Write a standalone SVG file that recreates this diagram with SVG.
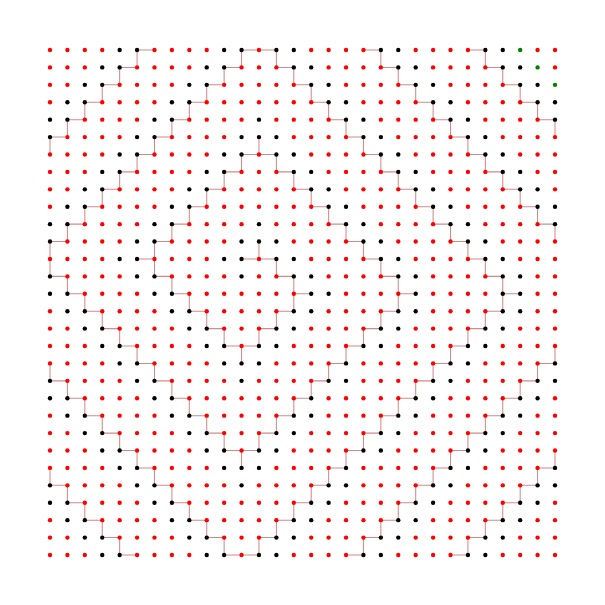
<svg xmlns="http://www.w3.org/2000/svg" xmlns:xlink="http://www.w3.org/1999/xlink" width="605" height="605" viewBox="0 0 605 605">
<style>
#links path{fill:none;stroke:#d48a8a;stroke-width:.06}
</style>
<defs>
<circle id="R" r=".125" fill="#ff0000"/>
<circle id="B" r=".125" fill="#000000"/>
<circle id="G" r=".125" fill="#008000"/>
</defs>
<rect width="605" height="605" fill="#ffffff"/>
<g transform="translate(50,50) scale(17.41379)">
<g id="links"><path d="M5 0h1M11 0h2M18 0h1M24 0h1M4 1h1M10 1h1M13 1h1M19 1h1M25 1h1M3 2h1M9 2h1M14 2h1M20 2h1M26 2h1M2 3h1M8 3h1M15 3h1M21 3h1M27 3h1M1 4h1M7 4h1M16 4h1M22 4h1M28 4h1M0 5h1M6 5h1M17 5h1M23 5h1M5 6h1M11 6h2M18 6h1M24 6h1M4 7h1M10 7h1M13 7h1M19 7h1M25 7h1M3 8h1M9 8h1M14 8h1M20 8h1M26 8h1M2 9h1M8 9h1M15 9h1M21 9h1M27 9h1M1 10h1M7 10h1M16 10h1M22 10h1M28 10h1M0 11h1M6 11h1M17 11h1M23 11h1M5 12h1M11 12h2M18 12h1M24 12h1M0 13h1M6 13h1M13 13h1M19 13h1M25 13h1M1 14h1M7 14h1M14 14h1M20 14h1M26 14h1M2 15h1M8 15h1M13 15h1M19 15h1M25 15h1M3 16h1M9 16h1M12 16h1M18 16h1M24 16h1M4 17h1M10 17h2M17 17h1M23 17h1M5 18h1M16 18h1M22 18h1M28 18h1M0 19h1M6 19h1M15 19h1M21 19h1M27 19h1M1 20h1M7 20h1M14 20h1M20 20h1M26 20h1M2 21h1M8 21h1M13 21h1M19 21h1M25 21h1M3 22h1M9 22h1M12 22h1M18 22h1M24 22h1M4 23h1M10 23h2M17 23h1M23 23h1M5 24h1M16 24h1M22 24h1M28 24h1M0 25h1M6 25h1M15 25h1M21 25h1M27 25h1M1 26h1M7 26h1M14 26h1M20 26h1M26 26h1M2 27h1M8 27h1M13 27h1M19 27h1M25 27h1M3 28h1M9 28h1M12 28h1M18 28h1M24 28h1M4 29h1M10 29h2M17 29h1M23 29h1"/>
<path d="M5 0v1M4 1v1M3 2v1M2 3v1M1 4v1M0 5v1M9 2v1M8 3v1M7 4v1M6 5v1M5 6v1M4 7v1M3 8v1M2 9v1M9 8v1M8 9v1M11 0v1M13 0v1M19 0v1M10 1v1M14 1v1M15 2v1M16 3v1M17 4v1M12 5v1M18 5v1M11 6v1M13 6v1M19 6v1M10 7v1M14 7v1M15 8v1M16 9v1M25 0v1M20 1v1M26 1v1M21 2v1M27 2v1M22 3v1M28 3v1M23 4v1M29 4v1M24 5v1M25 6v1M20 7v1M26 7v1M21 8v1M27 8v1M22 9v1M28 9v1M1 10v1M7 10v1M0 11v1M6 11v1M0 12v1M6 12v1M1 13v1M7 13v1M2 14v1M8 14v1M3 15v1M9 15v1M4 16v1M5 17v1M0 18v1M6 18v1M7 19v1M1 19v1M17 10v1M12 11v1M18 11v1M13 12v1M19 12v1M14 13v1M14 14v1M13 15v1M19 15v1M12 16v1M10 16v1M18 16v1M11 17v1M17 17v1M16 18v1M15 19v1M23 10v1M29 10v1M24 11v1M25 12v1M20 13v1M26 13v1M20 14v1M26 14v1M25 15v1M24 16v1M23 17v1M29 17v1M22 18v1M28 18v1M21 19v1M27 19v1M2 20v1M8 20v1M3 21v1M9 21v1M4 22v1M5 23v1M0 24v1M6 24v1M1 25v1M7 25v1M2 26v1M8 26v1M3 27v1M9 27v1M4 28v1M14 20v1M13 21v1M19 21v1M10 22v1M12 22v1M18 22v1M11 23v1M17 23v1M16 24v1M15 25v1M14 26v1M13 27v1M19 27v1M10 28v1M12 28v1M18 28v1M20 20v1M26 20v1M25 21v1M24 22v1M29 23v1M23 23v1M22 24v1M28 24v1M21 25v1M27 25v1M20 26v1M26 26v1M25 27v1M24 28v1"/></g>
<g id="row0"><g id="n0-0"><use href="#R" x="0" y="0"/></g><g id="n0-1"><use href="#R" x="1" y="0"/></g><g id="n0-2"><use href="#R" x="2" y="0"/></g><g id="n0-3"><use href="#R" x="3" y="0"/></g><g id="n0-4"><use href="#B" x="4" y="0"/></g><g id="n0-5"><use href="#B" x="5" y="0"/></g><g id="n0-6"><use href="#R" x="6" y="0"/></g><g id="n0-7"><use href="#R" x="7" y="0"/></g><g id="n0-8"><use href="#R" x="8" y="0"/></g><g id="n0-9"><use href="#R" x="9" y="0"/></g><g id="n0-10"><use href="#B" x="10" y="0"/></g><g id="n0-11"><use href="#B" x="11" y="0"/></g><g id="n0-12"><use href="#R" x="12" y="0"/></g><g id="n0-13"><use href="#B" x="13" y="0"/></g><g id="n0-14"><use href="#B" x="14" y="0"/></g><g id="n0-15"><use href="#R" x="15" y="0"/></g><g id="n0-16"><use href="#R" x="16" y="0"/></g><g id="n0-17"><use href="#R" x="17" y="0"/></g><g id="n0-18"><use href="#R" x="18" y="0"/></g><g id="n0-19"><use href="#B" x="19" y="0"/></g><g id="n0-20"><use href="#B" x="20" y="0"/></g><g id="n0-21"><use href="#R" x="21" y="0"/></g><g id="n0-22"><use href="#R" x="22" y="0"/></g><g id="n0-23"><use href="#R" x="23" y="0"/></g><g id="n0-24"><use href="#R" x="24" y="0"/></g><g id="n0-25"><use href="#B" x="25" y="0"/></g><g id="n0-26"><use href="#B" x="26" y="0"/></g><g id="n0-27"><use href="#G" x="27" y="0"/></g><g id="n0-28"><use href="#R" x="28" y="0"/></g><g id="n0-29"><use href="#R" x="29" y="0"/></g></g>
<g id="row1"><g id="n1-0"><use href="#R" x="0" y="1"/></g><g id="n1-1"><use href="#R" x="1" y="1"/></g><g id="n1-2"><use href="#R" x="2" y="1"/></g><g id="n1-3"><use href="#B" x="3" y="1"/></g><g id="n1-4"><use href="#B" x="4" y="1"/></g><g id="n1-5"><use href="#R" x="5" y="1"/></g><g id="n1-6"><use href="#R" x="6" y="1"/></g><g id="n1-7"><use href="#R" x="7" y="1"/></g><g id="n1-8"><use href="#R" x="8" y="1"/></g><g id="n1-9"><use href="#B" x="9" y="1"/></g><g id="n1-10"><use href="#B" x="10" y="1"/></g><g id="n1-11"><use href="#R" x="11" y="1"/></g><g id="n1-12"><use href="#R" x="12" y="1"/></g><g id="n1-13"><use href="#R" x="13" y="1"/></g><g id="n1-14"><use href="#B" x="14" y="1"/></g><g id="n1-15"><use href="#B" x="15" y="1"/></g><g id="n1-16"><use href="#R" x="16" y="1"/></g><g id="n1-17"><use href="#R" x="17" y="1"/></g><g id="n1-18"><use href="#R" x="18" y="1"/></g><g id="n1-19"><use href="#R" x="19" y="1"/></g><g id="n1-20"><use href="#B" x="20" y="1"/></g><g id="n1-21"><use href="#B" x="21" y="1"/></g><g id="n1-22"><use href="#R" x="22" y="1"/></g><g id="n1-23"><use href="#R" x="23" y="1"/></g><g id="n1-24"><use href="#R" x="24" y="1"/></g><g id="n1-25"><use href="#R" x="25" y="1"/></g><g id="n1-26"><use href="#B" x="26" y="1"/></g><g id="n1-27"><use href="#B" x="27" y="1"/></g><g id="n1-28"><use href="#G" x="28" y="1"/></g><g id="n1-29"><use href="#R" x="29" y="1"/></g></g>
<g id="row2"><g id="n2-0"><use href="#R" x="0" y="2"/></g><g id="n2-1"><use href="#R" x="1" y="2"/></g><g id="n2-2"><use href="#B" x="2" y="2"/></g><g id="n2-3"><use href="#B" x="3" y="2"/></g><g id="n2-4"><use href="#R" x="4" y="2"/></g><g id="n2-5"><use href="#R" x="5" y="2"/></g><g id="n2-6"><use href="#R" x="6" y="2"/></g><g id="n2-7"><use href="#R" x="7" y="2"/></g><g id="n2-8"><use href="#B" x="8" y="2"/></g><g id="n2-9"><use href="#B" x="9" y="2"/></g><g id="n2-10"><use href="#R" x="10" y="2"/></g><g id="n2-11"><use href="#R" x="11" y="2"/></g><g id="n2-12"><use href="#R" x="12" y="2"/></g><g id="n2-13"><use href="#R" x="13" y="2"/></g><g id="n2-14"><use href="#R" x="14" y="2"/></g><g id="n2-15"><use href="#B" x="15" y="2"/></g><g id="n2-16"><use href="#B" x="16" y="2"/></g><g id="n2-17"><use href="#R" x="17" y="2"/></g><g id="n2-18"><use href="#R" x="18" y="2"/></g><g id="n2-19"><use href="#R" x="19" y="2"/></g><g id="n2-20"><use href="#R" x="20" y="2"/></g><g id="n2-21"><use href="#B" x="21" y="2"/></g><g id="n2-22"><use href="#B" x="22" y="2"/></g><g id="n2-23"><use href="#R" x="23" y="2"/></g><g id="n2-24"><use href="#R" x="24" y="2"/></g><g id="n2-25"><use href="#R" x="25" y="2"/></g><g id="n2-26"><use href="#R" x="26" y="2"/></g><g id="n2-27"><use href="#B" x="27" y="2"/></g><g id="n2-28"><use href="#B" x="28" y="2"/></g><g id="n2-29"><use href="#G" x="29" y="2"/></g></g>
<g id="row3"><g id="n3-0"><use href="#R" x="0" y="3"/></g><g id="n3-1"><use href="#B" x="1" y="3"/></g><g id="n3-2"><use href="#B" x="2" y="3"/></g><g id="n3-3"><use href="#R" x="3" y="3"/></g><g id="n3-4"><use href="#R" x="4" y="3"/></g><g id="n3-5"><use href="#R" x="5" y="3"/></g><g id="n3-6"><use href="#R" x="6" y="3"/></g><g id="n3-7"><use href="#B" x="7" y="3"/></g><g id="n3-8"><use href="#B" x="8" y="3"/></g><g id="n3-9"><use href="#R" x="9" y="3"/></g><g id="n3-10"><use href="#R" x="10" y="3"/></g><g id="n3-11"><use href="#R" x="11" y="3"/></g><g id="n3-12"><use href="#R" x="12" y="3"/></g><g id="n3-13"><use href="#R" x="13" y="3"/></g><g id="n3-14"><use href="#R" x="14" y="3"/></g><g id="n3-15"><use href="#R" x="15" y="3"/></g><g id="n3-16"><use href="#B" x="16" y="3"/></g><g id="n3-17"><use href="#B" x="17" y="3"/></g><g id="n3-18"><use href="#R" x="18" y="3"/></g><g id="n3-19"><use href="#R" x="19" y="3"/></g><g id="n3-20"><use href="#R" x="20" y="3"/></g><g id="n3-21"><use href="#R" x="21" y="3"/></g><g id="n3-22"><use href="#B" x="22" y="3"/></g><g id="n3-23"><use href="#B" x="23" y="3"/></g><g id="n3-24"><use href="#R" x="24" y="3"/></g><g id="n3-25"><use href="#R" x="25" y="3"/></g><g id="n3-26"><use href="#R" x="26" y="3"/></g><g id="n3-27"><use href="#R" x="27" y="3"/></g><g id="n3-28"><use href="#B" x="28" y="3"/></g><g id="n3-29"><use href="#B" x="29" y="3"/></g></g>
<g id="row4"><g id="n4-0"><use href="#B" x="0" y="4"/></g><g id="n4-1"><use href="#B" x="1" y="4"/></g><g id="n4-2"><use href="#R" x="2" y="4"/></g><g id="n4-3"><use href="#R" x="3" y="4"/></g><g id="n4-4"><use href="#R" x="4" y="4"/></g><g id="n4-5"><use href="#R" x="5" y="4"/></g><g id="n4-6"><use href="#B" x="6" y="4"/></g><g id="n4-7"><use href="#B" x="7" y="4"/></g><g id="n4-8"><use href="#R" x="8" y="4"/></g><g id="n4-9"><use href="#R" x="9" y="4"/></g><g id="n4-10"><use href="#R" x="10" y="4"/></g><g id="n4-11"><use href="#R" x="11" y="4"/></g><g id="n4-12"><use href="#B" x="12" y="4"/></g><g id="n4-13"><use href="#R" x="13" y="4"/></g><g id="n4-14"><use href="#R" x="14" y="4"/></g><g id="n4-15"><use href="#R" x="15" y="4"/></g><g id="n4-16"><use href="#R" x="16" y="4"/></g><g id="n4-17"><use href="#B" x="17" y="4"/></g><g id="n4-18"><use href="#B" x="18" y="4"/></g><g id="n4-19"><use href="#R" x="19" y="4"/></g><g id="n4-20"><use href="#R" x="20" y="4"/></g><g id="n4-21"><use href="#R" x="21" y="4"/></g><g id="n4-22"><use href="#R" x="22" y="4"/></g><g id="n4-23"><use href="#B" x="23" y="4"/></g><g id="n4-24"><use href="#B" x="24" y="4"/></g><g id="n4-25"><use href="#R" x="25" y="4"/></g><g id="n4-26"><use href="#R" x="26" y="4"/></g><g id="n4-27"><use href="#R" x="27" y="4"/></g><g id="n4-28"><use href="#R" x="28" y="4"/></g><g id="n4-29"><use href="#B" x="29" y="4"/></g></g>
<g id="row5"><g id="n5-0"><use href="#B" x="0" y="5"/></g><g id="n5-1"><use href="#R" x="1" y="5"/></g><g id="n5-2"><use href="#R" x="2" y="5"/></g><g id="n5-3"><use href="#R" x="3" y="5"/></g><g id="n5-4"><use href="#R" x="4" y="5"/></g><g id="n5-5"><use href="#B" x="5" y="5"/></g><g id="n5-6"><use href="#B" x="6" y="5"/></g><g id="n5-7"><use href="#R" x="7" y="5"/></g><g id="n5-8"><use href="#R" x="8" y="5"/></g><g id="n5-9"><use href="#R" x="9" y="5"/></g><g id="n5-10"><use href="#R" x="10" y="5"/></g><g id="n5-11"><use href="#B" x="11" y="5"/></g><g id="n5-12"><use href="#B" x="12" y="5"/></g><g id="n5-13"><use href="#B" x="13" y="5"/></g><g id="n5-14"><use href="#R" x="14" y="5"/></g><g id="n5-15"><use href="#R" x="15" y="5"/></g><g id="n5-16"><use href="#R" x="16" y="5"/></g><g id="n5-17"><use href="#R" x="17" y="5"/></g><g id="n5-18"><use href="#B" x="18" y="5"/></g><g id="n5-19"><use href="#B" x="19" y="5"/></g><g id="n5-20"><use href="#R" x="20" y="5"/></g><g id="n5-21"><use href="#R" x="21" y="5"/></g><g id="n5-22"><use href="#R" x="22" y="5"/></g><g id="n5-23"><use href="#R" x="23" y="5"/></g><g id="n5-24"><use href="#B" x="24" y="5"/></g><g id="n5-25"><use href="#B" x="25" y="5"/></g><g id="n5-26"><use href="#R" x="26" y="5"/></g><g id="n5-27"><use href="#R" x="27" y="5"/></g><g id="n5-28"><use href="#R" x="28" y="5"/></g><g id="n5-29"><use href="#R" x="29" y="5"/></g></g>
<g id="row6"><g id="n6-0"><use href="#R" x="0" y="6"/></g><g id="n6-1"><use href="#R" x="1" y="6"/></g><g id="n6-2"><use href="#R" x="2" y="6"/></g><g id="n6-3"><use href="#R" x="3" y="6"/></g><g id="n6-4"><use href="#B" x="4" y="6"/></g><g id="n6-5"><use href="#B" x="5" y="6"/></g><g id="n6-6"><use href="#R" x="6" y="6"/></g><g id="n6-7"><use href="#R" x="7" y="6"/></g><g id="n6-8"><use href="#R" x="8" y="6"/></g><g id="n6-9"><use href="#R" x="9" y="6"/></g><g id="n6-10"><use href="#B" x="10" y="6"/></g><g id="n6-11"><use href="#B" x="11" y="6"/></g><g id="n6-12"><use href="#R" x="12" y="6"/></g><g id="n6-13"><use href="#B" x="13" y="6"/></g><g id="n6-14"><use href="#B" x="14" y="6"/></g><g id="n6-15"><use href="#R" x="15" y="6"/></g><g id="n6-16"><use href="#R" x="16" y="6"/></g><g id="n6-17"><use href="#R" x="17" y="6"/></g><g id="n6-18"><use href="#R" x="18" y="6"/></g><g id="n6-19"><use href="#B" x="19" y="6"/></g><g id="n6-20"><use href="#B" x="20" y="6"/></g><g id="n6-21"><use href="#R" x="21" y="6"/></g><g id="n6-22"><use href="#R" x="22" y="6"/></g><g id="n6-23"><use href="#R" x="23" y="6"/></g><g id="n6-24"><use href="#R" x="24" y="6"/></g><g id="n6-25"><use href="#B" x="25" y="6"/></g><g id="n6-26"><use href="#B" x="26" y="6"/></g><g id="n6-27"><use href="#R" x="27" y="6"/></g><g id="n6-28"><use href="#R" x="28" y="6"/></g><g id="n6-29"><use href="#R" x="29" y="6"/></g></g>
<g id="row7"><g id="n7-0"><use href="#R" x="0" y="7"/></g><g id="n7-1"><use href="#R" x="1" y="7"/></g><g id="n7-2"><use href="#R" x="2" y="7"/></g><g id="n7-3"><use href="#B" x="3" y="7"/></g><g id="n7-4"><use href="#B" x="4" y="7"/></g><g id="n7-5"><use href="#R" x="5" y="7"/></g><g id="n7-6"><use href="#R" x="6" y="7"/></g><g id="n7-7"><use href="#R" x="7" y="7"/></g><g id="n7-8"><use href="#R" x="8" y="7"/></g><g id="n7-9"><use href="#B" x="9" y="7"/></g><g id="n7-10"><use href="#B" x="10" y="7"/></g><g id="n7-11"><use href="#R" x="11" y="7"/></g><g id="n7-12"><use href="#R" x="12" y="7"/></g><g id="n7-13"><use href="#R" x="13" y="7"/></g><g id="n7-14"><use href="#B" x="14" y="7"/></g><g id="n7-15"><use href="#B" x="15" y="7"/></g><g id="n7-16"><use href="#R" x="16" y="7"/></g><g id="n7-17"><use href="#R" x="17" y="7"/></g><g id="n7-18"><use href="#R" x="18" y="7"/></g><g id="n7-19"><use href="#R" x="19" y="7"/></g><g id="n7-20"><use href="#B" x="20" y="7"/></g><g id="n7-21"><use href="#B" x="21" y="7"/></g><g id="n7-22"><use href="#R" x="22" y="7"/></g><g id="n7-23"><use href="#R" x="23" y="7"/></g><g id="n7-24"><use href="#R" x="24" y="7"/></g><g id="n7-25"><use href="#R" x="25" y="7"/></g><g id="n7-26"><use href="#B" x="26" y="7"/></g><g id="n7-27"><use href="#B" x="27" y="7"/></g><g id="n7-28"><use href="#R" x="28" y="7"/></g><g id="n7-29"><use href="#R" x="29" y="7"/></g></g>
<g id="row8"><g id="n8-0"><use href="#R" x="0" y="8"/></g><g id="n8-1"><use href="#R" x="1" y="8"/></g><g id="n8-2"><use href="#B" x="2" y="8"/></g><g id="n8-3"><use href="#B" x="3" y="8"/></g><g id="n8-4"><use href="#R" x="4" y="8"/></g><g id="n8-5"><use href="#R" x="5" y="8"/></g><g id="n8-6"><use href="#R" x="6" y="8"/></g><g id="n8-7"><use href="#R" x="7" y="8"/></g><g id="n8-8"><use href="#B" x="8" y="8"/></g><g id="n8-9"><use href="#B" x="9" y="8"/></g><g id="n8-10"><use href="#R" x="10" y="8"/></g><g id="n8-11"><use href="#R" x="11" y="8"/></g><g id="n8-12"><use href="#R" x="12" y="8"/></g><g id="n8-13"><use href="#R" x="13" y="8"/></g><g id="n8-14"><use href="#R" x="14" y="8"/></g><g id="n8-15"><use href="#B" x="15" y="8"/></g><g id="n8-16"><use href="#B" x="16" y="8"/></g><g id="n8-17"><use href="#R" x="17" y="8"/></g><g id="n8-18"><use href="#R" x="18" y="8"/></g><g id="n8-19"><use href="#R" x="19" y="8"/></g><g id="n8-20"><use href="#R" x="20" y="8"/></g><g id="n8-21"><use href="#B" x="21" y="8"/></g><g id="n8-22"><use href="#B" x="22" y="8"/></g><g id="n8-23"><use href="#R" x="23" y="8"/></g><g id="n8-24"><use href="#R" x="24" y="8"/></g><g id="n8-25"><use href="#R" x="25" y="8"/></g><g id="n8-26"><use href="#R" x="26" y="8"/></g><g id="n8-27"><use href="#B" x="27" y="8"/></g><g id="n8-28"><use href="#B" x="28" y="8"/></g><g id="n8-29"><use href="#R" x="29" y="8"/></g></g>
<g id="row9"><g id="n9-0"><use href="#R" x="0" y="9"/></g><g id="n9-1"><use href="#B" x="1" y="9"/></g><g id="n9-2"><use href="#B" x="2" y="9"/></g><g id="n9-3"><use href="#R" x="3" y="9"/></g><g id="n9-4"><use href="#R" x="4" y="9"/></g><g id="n9-5"><use href="#R" x="5" y="9"/></g><g id="n9-6"><use href="#R" x="6" y="9"/></g><g id="n9-7"><use href="#B" x="7" y="9"/></g><g id="n9-8"><use href="#B" x="8" y="9"/></g><g id="n9-9"><use href="#R" x="9" y="9"/></g><g id="n9-10"><use href="#R" x="10" y="9"/></g><g id="n9-11"><use href="#R" x="11" y="9"/></g><g id="n9-12"><use href="#R" x="12" y="9"/></g><g id="n9-13"><use href="#R" x="13" y="9"/></g><g id="n9-14"><use href="#R" x="14" y="9"/></g><g id="n9-15"><use href="#R" x="15" y="9"/></g><g id="n9-16"><use href="#B" x="16" y="9"/></g><g id="n9-17"><use href="#B" x="17" y="9"/></g><g id="n9-18"><use href="#R" x="18" y="9"/></g><g id="n9-19"><use href="#R" x="19" y="9"/></g><g id="n9-20"><use href="#R" x="20" y="9"/></g><g id="n9-21"><use href="#R" x="21" y="9"/></g><g id="n9-22"><use href="#B" x="22" y="9"/></g><g id="n9-23"><use href="#B" x="23" y="9"/></g><g id="n9-24"><use href="#R" x="24" y="9"/></g><g id="n9-25"><use href="#R" x="25" y="9"/></g><g id="n9-26"><use href="#R" x="26" y="9"/></g><g id="n9-27"><use href="#R" x="27" y="9"/></g><g id="n9-28"><use href="#B" x="28" y="9"/></g><g id="n9-29"><use href="#B" x="29" y="9"/></g></g>
<g id="row10"><g id="n10-0"><use href="#B" x="0" y="10"/></g><g id="n10-1"><use href="#B" x="1" y="10"/></g><g id="n10-2"><use href="#R" x="2" y="10"/></g><g id="n10-3"><use href="#R" x="3" y="10"/></g><g id="n10-4"><use href="#R" x="4" y="10"/></g><g id="n10-5"><use href="#R" x="5" y="10"/></g><g id="n10-6"><use href="#B" x="6" y="10"/></g><g id="n10-7"><use href="#B" x="7" y="10"/></g><g id="n10-8"><use href="#R" x="8" y="10"/></g><g id="n10-9"><use href="#R" x="9" y="10"/></g><g id="n10-10"><use href="#R" x="10" y="10"/></g><g id="n10-11"><use href="#R" x="11" y="10"/></g><g id="n10-12"><use href="#B" x="12" y="10"/></g><g id="n10-13"><use href="#R" x="13" y="10"/></g><g id="n10-14"><use href="#R" x="14" y="10"/></g><g id="n10-15"><use href="#R" x="15" y="10"/></g><g id="n10-16"><use href="#R" x="16" y="10"/></g><g id="n10-17"><use href="#B" x="17" y="10"/></g><g id="n10-18"><use href="#B" x="18" y="10"/></g><g id="n10-19"><use href="#R" x="19" y="10"/></g><g id="n10-20"><use href="#R" x="20" y="10"/></g><g id="n10-21"><use href="#R" x="21" y="10"/></g><g id="n10-22"><use href="#R" x="22" y="10"/></g><g id="n10-23"><use href="#B" x="23" y="10"/></g><g id="n10-24"><use href="#B" x="24" y="10"/></g><g id="n10-25"><use href="#R" x="25" y="10"/></g><g id="n10-26"><use href="#R" x="26" y="10"/></g><g id="n10-27"><use href="#R" x="27" y="10"/></g><g id="n10-28"><use href="#R" x="28" y="10"/></g><g id="n10-29"><use href="#B" x="29" y="10"/></g></g>
<g id="row11"><g id="n11-0"><use href="#B" x="0" y="11"/></g><g id="n11-1"><use href="#R" x="1" y="11"/></g><g id="n11-2"><use href="#R" x="2" y="11"/></g><g id="n11-3"><use href="#R" x="3" y="11"/></g><g id="n11-4"><use href="#R" x="4" y="11"/></g><g id="n11-5"><use href="#B" x="5" y="11"/></g><g id="n11-6"><use href="#B" x="6" y="11"/></g><g id="n11-7"><use href="#R" x="7" y="11"/></g><g id="n11-8"><use href="#R" x="8" y="11"/></g><g id="n11-9"><use href="#R" x="9" y="11"/></g><g id="n11-10"><use href="#R" x="10" y="11"/></g><g id="n11-11"><use href="#B" x="11" y="11"/></g><g id="n11-12"><use href="#B" x="12" y="11"/></g><g id="n11-13"><use href="#B" x="13" y="11"/></g><g id="n11-14"><use href="#R" x="14" y="11"/></g><g id="n11-15"><use href="#R" x="15" y="11"/></g><g id="n11-16"><use href="#R" x="16" y="11"/></g><g id="n11-17"><use href="#R" x="17" y="11"/></g><g id="n11-18"><use href="#B" x="18" y="11"/></g><g id="n11-19"><use href="#B" x="19" y="11"/></g><g id="n11-20"><use href="#R" x="20" y="11"/></g><g id="n11-21"><use href="#R" x="21" y="11"/></g><g id="n11-22"><use href="#R" x="22" y="11"/></g><g id="n11-23"><use href="#R" x="23" y="11"/></g><g id="n11-24"><use href="#B" x="24" y="11"/></g><g id="n11-25"><use href="#B" x="25" y="11"/></g><g id="n11-26"><use href="#R" x="26" y="11"/></g><g id="n11-27"><use href="#R" x="27" y="11"/></g><g id="n11-28"><use href="#R" x="28" y="11"/></g><g id="n11-29"><use href="#R" x="29" y="11"/></g></g>
<g id="row12"><g id="n12-0"><use href="#R" x="0" y="12"/></g><g id="n12-1"><use href="#R" x="1" y="12"/></g><g id="n12-2"><use href="#R" x="2" y="12"/></g><g id="n12-3"><use href="#R" x="3" y="12"/></g><g id="n12-4"><use href="#B" x="4" y="12"/></g><g id="n12-5"><use href="#B" x="5" y="12"/></g><g id="n12-6"><use href="#R" x="6" y="12"/></g><g id="n12-7"><use href="#R" x="7" y="12"/></g><g id="n12-8"><use href="#R" x="8" y="12"/></g><g id="n12-9"><use href="#R" x="9" y="12"/></g><g id="n12-10"><use href="#B" x="10" y="12"/></g><g id="n12-11"><use href="#B" x="11" y="12"/></g><g id="n12-12"><use href="#R" x="12" y="12"/></g><g id="n12-13"><use href="#B" x="13" y="12"/></g><g id="n12-14"><use href="#B" x="14" y="12"/></g><g id="n12-15"><use href="#R" x="15" y="12"/></g><g id="n12-16"><use href="#R" x="16" y="12"/></g><g id="n12-17"><use href="#R" x="17" y="12"/></g><g id="n12-18"><use href="#R" x="18" y="12"/></g><g id="n12-19"><use href="#B" x="19" y="12"/></g><g id="n12-20"><use href="#B" x="20" y="12"/></g><g id="n12-21"><use href="#R" x="21" y="12"/></g><g id="n12-22"><use href="#R" x="22" y="12"/></g><g id="n12-23"><use href="#R" x="23" y="12"/></g><g id="n12-24"><use href="#R" x="24" y="12"/></g><g id="n12-25"><use href="#B" x="25" y="12"/></g><g id="n12-26"><use href="#B" x="26" y="12"/></g><g id="n12-27"><use href="#R" x="27" y="12"/></g><g id="n12-28"><use href="#R" x="28" y="12"/></g><g id="n12-29"><use href="#R" x="29" y="12"/></g></g>
<g id="row13"><g id="n13-0"><use href="#B" x="0" y="13"/></g><g id="n13-1"><use href="#R" x="1" y="13"/></g><g id="n13-2"><use href="#R" x="2" y="13"/></g><g id="n13-3"><use href="#R" x="3" y="13"/></g><g id="n13-4"><use href="#R" x="4" y="13"/></g><g id="n13-5"><use href="#B" x="5" y="13"/></g><g id="n13-6"><use href="#B" x="6" y="13"/></g><g id="n13-7"><use href="#R" x="7" y="13"/></g><g id="n13-8"><use href="#R" x="8" y="13"/></g><g id="n13-9"><use href="#R" x="9" y="13"/></g><g id="n13-10"><use href="#R" x="10" y="13"/></g><g id="n13-11"><use href="#B" x="11" y="13"/></g><g id="n13-12"><use href="#R" x="12" y="13"/></g><g id="n13-13"><use href="#R" x="13" y="13"/></g><g id="n13-14"><use href="#B" x="14" y="13"/></g><g id="n13-15"><use href="#B" x="15" y="13"/></g><g id="n13-16"><use href="#R" x="16" y="13"/></g><g id="n13-17"><use href="#R" x="17" y="13"/></g><g id="n13-18"><use href="#R" x="18" y="13"/></g><g id="n13-19"><use href="#R" x="19" y="13"/></g><g id="n13-20"><use href="#B" x="20" y="13"/></g><g id="n13-21"><use href="#B" x="21" y="13"/></g><g id="n13-22"><use href="#R" x="22" y="13"/></g><g id="n13-23"><use href="#R" x="23" y="13"/></g><g id="n13-24"><use href="#R" x="24" y="13"/></g><g id="n13-25"><use href="#R" x="25" y="13"/></g><g id="n13-26"><use href="#B" x="26" y="13"/></g><g id="n13-27"><use href="#B" x="27" y="13"/></g><g id="n13-28"><use href="#R" x="28" y="13"/></g><g id="n13-29"><use href="#R" x="29" y="13"/></g></g>
<g id="row14"><g id="n14-0"><use href="#B" x="0" y="14"/></g><g id="n14-1"><use href="#B" x="1" y="14"/></g><g id="n14-2"><use href="#R" x="2" y="14"/></g><g id="n14-3"><use href="#R" x="3" y="14"/></g><g id="n14-4"><use href="#R" x="4" y="14"/></g><g id="n14-5"><use href="#R" x="5" y="14"/></g><g id="n14-6"><use href="#B" x="6" y="14"/></g><g id="n14-7"><use href="#B" x="7" y="14"/></g><g id="n14-8"><use href="#R" x="8" y="14"/></g><g id="n14-9"><use href="#R" x="9" y="14"/></g><g id="n14-10"><use href="#R" x="10" y="14"/></g><g id="n14-11"><use href="#R" x="11" y="14"/></g><g id="n14-12"><use href="#R" x="12" y="14"/></g><g id="n14-13"><use href="#R" x="13" y="14"/></g><g id="n14-14"><use href="#R" x="14" y="14"/></g><g id="n14-15"><use href="#B" x="15" y="14"/></g><g id="n14-16"><use href="#B" x="16" y="14"/></g><g id="n14-17"><use href="#R" x="17" y="14"/></g><g id="n14-18"><use href="#R" x="18" y="14"/></g><g id="n14-19"><use href="#R" x="19" y="14"/></g><g id="n14-20"><use href="#R" x="20" y="14"/></g><g id="n14-21"><use href="#B" x="21" y="14"/></g><g id="n14-22"><use href="#R" x="22" y="14"/></g><g id="n14-23"><use href="#R" x="23" y="14"/></g><g id="n14-24"><use href="#R" x="24" y="14"/></g><g id="n14-25"><use href="#R" x="25" y="14"/></g><g id="n14-26"><use href="#B" x="26" y="14"/></g><g id="n14-27"><use href="#B" x="27" y="14"/></g><g id="n14-28"><use href="#R" x="28" y="14"/></g><g id="n14-29"><use href="#R" x="29" y="14"/></g></g>
<g id="row15"><g id="n15-0"><use href="#R" x="0" y="15"/></g><g id="n15-1"><use href="#B" x="1" y="15"/></g><g id="n15-2"><use href="#B" x="2" y="15"/></g><g id="n15-3"><use href="#R" x="3" y="15"/></g><g id="n15-4"><use href="#R" x="4" y="15"/></g><g id="n15-5"><use href="#R" x="5" y="15"/></g><g id="n15-6"><use href="#R" x="6" y="15"/></g><g id="n15-7"><use href="#B" x="7" y="15"/></g><g id="n15-8"><use href="#B" x="8" y="15"/></g><g id="n15-9"><use href="#R" x="9" y="15"/></g><g id="n15-10"><use href="#R" x="10" y="15"/></g><g id="n15-11"><use href="#R" x="11" y="15"/></g><g id="n15-12"><use href="#R" x="12" y="15"/></g><g id="n15-13"><use href="#R" x="13" y="15"/></g><g id="n15-14"><use href="#B" x="14" y="15"/></g><g id="n15-15"><use href="#B" x="15" y="15"/></g><g id="n15-16"><use href="#R" x="16" y="15"/></g><g id="n15-17"><use href="#R" x="17" y="15"/></g><g id="n15-18"><use href="#R" x="18" y="15"/></g><g id="n15-19"><use href="#R" x="19" y="15"/></g><g id="n15-20"><use href="#B" x="20" y="15"/></g><g id="n15-21"><use href="#B" x="21" y="15"/></g><g id="n15-22"><use href="#R" x="22" y="15"/></g><g id="n15-23"><use href="#R" x="23" y="15"/></g><g id="n15-24"><use href="#R" x="24" y="15"/></g><g id="n15-25"><use href="#R" x="25" y="15"/></g><g id="n15-26"><use href="#B" x="26" y="15"/></g><g id="n15-27"><use href="#B" x="27" y="15"/></g><g id="n15-28"><use href="#R" x="28" y="15"/></g><g id="n15-29"><use href="#R" x="29" y="15"/></g></g>
<g id="row16"><g id="n16-0"><use href="#R" x="0" y="16"/></g><g id="n16-1"><use href="#R" x="1" y="16"/></g><g id="n16-2"><use href="#B" x="2" y="16"/></g><g id="n16-3"><use href="#B" x="3" y="16"/></g><g id="n16-4"><use href="#R" x="4" y="16"/></g><g id="n16-5"><use href="#R" x="5" y="16"/></g><g id="n16-6"><use href="#R" x="6" y="16"/></g><g id="n16-7"><use href="#R" x="7" y="16"/></g><g id="n16-8"><use href="#B" x="8" y="16"/></g><g id="n16-9"><use href="#B" x="9" y="16"/></g><g id="n16-10"><use href="#R" x="10" y="16"/></g><g id="n16-11"><use href="#R" x="11" y="16"/></g><g id="n16-12"><use href="#R" x="12" y="16"/></g><g id="n16-13"><use href="#B" x="13" y="16"/></g><g id="n16-14"><use href="#B" x="14" y="16"/></g><g id="n16-15"><use href="#R" x="15" y="16"/></g><g id="n16-16"><use href="#R" x="16" y="16"/></g><g id="n16-17"><use href="#R" x="17" y="16"/></g><g id="n16-18"><use href="#R" x="18" y="16"/></g><g id="n16-19"><use href="#B" x="19" y="16"/></g><g id="n16-20"><use href="#B" x="20" y="16"/></g><g id="n16-21"><use href="#R" x="21" y="16"/></g><g id="n16-22"><use href="#R" x="22" y="16"/></g><g id="n16-23"><use href="#R" x="23" y="16"/></g><g id="n16-24"><use href="#R" x="24" y="16"/></g><g id="n16-25"><use href="#B" x="25" y="16"/></g><g id="n16-26"><use href="#B" x="26" y="16"/></g><g id="n16-27"><use href="#R" x="27" y="16"/></g><g id="n16-28"><use href="#R" x="28" y="16"/></g><g id="n16-29"><use href="#R" x="29" y="16"/></g></g>
<g id="row17"><g id="n17-0"><use href="#R" x="0" y="17"/></g><g id="n17-1"><use href="#R" x="1" y="17"/></g><g id="n17-2"><use href="#R" x="2" y="17"/></g><g id="n17-3"><use href="#B" x="3" y="17"/></g><g id="n17-4"><use href="#B" x="4" y="17"/></g><g id="n17-5"><use href="#R" x="5" y="17"/></g><g id="n17-6"><use href="#R" x="6" y="17"/></g><g id="n17-7"><use href="#R" x="7" y="17"/></g><g id="n17-8"><use href="#R" x="8" y="17"/></g><g id="n17-9"><use href="#B" x="9" y="17"/></g><g id="n17-10"><use href="#B" x="10" y="17"/></g><g id="n17-11"><use href="#R" x="11" y="17"/></g><g id="n17-12"><use href="#B" x="12" y="17"/></g><g id="n17-13"><use href="#B" x="13" y="17"/></g><g id="n17-14"><use href="#R" x="14" y="17"/></g><g id="n17-15"><use href="#R" x="15" y="17"/></g><g id="n17-16"><use href="#R" x="16" y="17"/></g><g id="n17-17"><use href="#R" x="17" y="17"/></g><g id="n17-18"><use href="#B" x="18" y="17"/></g><g id="n17-19"><use href="#B" x="19" y="17"/></g><g id="n17-20"><use href="#R" x="20" y="17"/></g><g id="n17-21"><use href="#R" x="21" y="17"/></g><g id="n17-22"><use href="#R" x="22" y="17"/></g><g id="n17-23"><use href="#R" x="23" y="17"/></g><g id="n17-24"><use href="#B" x="24" y="17"/></g><g id="n17-25"><use href="#B" x="25" y="17"/></g><g id="n17-26"><use href="#R" x="26" y="17"/></g><g id="n17-27"><use href="#R" x="27" y="17"/></g><g id="n17-28"><use href="#R" x="28" y="17"/></g><g id="n17-29"><use href="#R" x="29" y="17"/></g></g>
<g id="row18"><g id="n18-0"><use href="#R" x="0" y="18"/></g><g id="n18-1"><use href="#R" x="1" y="18"/></g><g id="n18-2"><use href="#R" x="2" y="18"/></g><g id="n18-3"><use href="#R" x="3" y="18"/></g><g id="n18-4"><use href="#B" x="4" y="18"/></g><g id="n18-5"><use href="#B" x="5" y="18"/></g><g id="n18-6"><use href="#R" x="6" y="18"/></g><g id="n18-7"><use href="#R" x="7" y="18"/></g><g id="n18-8"><use href="#R" x="8" y="18"/></g><g id="n18-9"><use href="#R" x="9" y="18"/></g><g id="n18-10"><use href="#B" x="10" y="18"/></g><g id="n18-11"><use href="#B" x="11" y="18"/></g><g id="n18-12"><use href="#B" x="12" y="18"/></g><g id="n18-13"><use href="#R" x="13" y="18"/></g><g id="n18-14"><use href="#R" x="14" y="18"/></g><g id="n18-15"><use href="#R" x="15" y="18"/></g><g id="n18-16"><use href="#R" x="16" y="18"/></g><g id="n18-17"><use href="#B" x="17" y="18"/></g><g id="n18-18"><use href="#R" x="18" y="18"/></g><g id="n18-19"><use href="#R" x="19" y="18"/></g><g id="n18-20"><use href="#R" x="20" y="18"/></g><g id="n18-21"><use href="#R" x="21" y="18"/></g><g id="n18-22"><use href="#R" x="22" y="18"/></g><g id="n18-23"><use href="#B" x="23" y="18"/></g><g id="n18-24"><use href="#B" x="24" y="18"/></g><g id="n18-25"><use href="#R" x="25" y="18"/></g><g id="n18-26"><use href="#R" x="26" y="18"/></g><g id="n18-27"><use href="#R" x="27" y="18"/></g><g id="n18-28"><use href="#R" x="28" y="18"/></g><g id="n18-29"><use href="#B" x="29" y="18"/></g></g>
<g id="row19"><g id="n19-0"><use href="#B" x="0" y="19"/></g><g id="n19-1"><use href="#R" x="1" y="19"/></g><g id="n19-2"><use href="#R" x="2" y="19"/></g><g id="n19-3"><use href="#R" x="3" y="19"/></g><g id="n19-4"><use href="#R" x="4" y="19"/></g><g id="n19-5"><use href="#B" x="5" y="19"/></g><g id="n19-6"><use href="#B" x="6" y="19"/></g><g id="n19-7"><use href="#R" x="7" y="19"/></g><g id="n19-8"><use href="#R" x="8" y="19"/></g><g id="n19-9"><use href="#R" x="9" y="19"/></g><g id="n19-10"><use href="#R" x="10" y="19"/></g><g id="n19-11"><use href="#B" x="11" y="19"/></g><g id="n19-12"><use href="#R" x="12" y="19"/></g><g id="n19-13"><use href="#R" x="13" y="19"/></g><g id="n19-14"><use href="#R" x="14" y="19"/></g><g id="n19-15"><use href="#R" x="15" y="19"/></g><g id="n19-16"><use href="#B" x="16" y="19"/></g><g id="n19-17"><use href="#B" x="17" y="19"/></g><g id="n19-18"><use href="#R" x="18" y="19"/></g><g id="n19-19"><use href="#R" x="19" y="19"/></g><g id="n19-20"><use href="#R" x="20" y="19"/></g><g id="n19-21"><use href="#R" x="21" y="19"/></g><g id="n19-22"><use href="#B" x="22" y="19"/></g><g id="n19-23"><use href="#B" x="23" y="19"/></g><g id="n19-24"><use href="#R" x="24" y="19"/></g><g id="n19-25"><use href="#R" x="25" y="19"/></g><g id="n19-26"><use href="#R" x="26" y="19"/></g><g id="n19-27"><use href="#R" x="27" y="19"/></g><g id="n19-28"><use href="#B" x="28" y="19"/></g><g id="n19-29"><use href="#B" x="29" y="19"/></g></g>
<g id="row20"><g id="n20-0"><use href="#B" x="0" y="20"/></g><g id="n20-1"><use href="#B" x="1" y="20"/></g><g id="n20-2"><use href="#R" x="2" y="20"/></g><g id="n20-3"><use href="#R" x="3" y="20"/></g><g id="n20-4"><use href="#R" x="4" y="20"/></g><g id="n20-5"><use href="#R" x="5" y="20"/></g><g id="n20-6"><use href="#B" x="6" y="20"/></g><g id="n20-7"><use href="#B" x="7" y="20"/></g><g id="n20-8"><use href="#R" x="8" y="20"/></g><g id="n20-9"><use href="#R" x="9" y="20"/></g><g id="n20-10"><use href="#R" x="10" y="20"/></g><g id="n20-11"><use href="#R" x="11" y="20"/></g><g id="n20-12"><use href="#R" x="12" y="20"/></g><g id="n20-13"><use href="#R" x="13" y="20"/></g><g id="n20-14"><use href="#R" x="14" y="20"/></g><g id="n20-15"><use href="#B" x="15" y="20"/></g><g id="n20-16"><use href="#R" x="16" y="20"/></g><g id="n20-17"><use href="#R" x="17" y="20"/></g><g id="n20-18"><use href="#R" x="18" y="20"/></g><g id="n20-19"><use href="#R" x="19" y="20"/></g><g id="n20-20"><use href="#R" x="20" y="20"/></g><g id="n20-21"><use href="#B" x="21" y="20"/></g><g id="n20-22"><use href="#B" x="22" y="20"/></g><g id="n20-23"><use href="#R" x="23" y="20"/></g><g id="n20-24"><use href="#R" x="24" y="20"/></g><g id="n20-25"><use href="#R" x="25" y="20"/></g><g id="n20-26"><use href="#R" x="26" y="20"/></g><g id="n20-27"><use href="#B" x="27" y="20"/></g><g id="n20-28"><use href="#B" x="28" y="20"/></g><g id="n20-29"><use href="#R" x="29" y="20"/></g></g>
<g id="row21"><g id="n21-0"><use href="#R" x="0" y="21"/></g><g id="n21-1"><use href="#B" x="1" y="21"/></g><g id="n21-2"><use href="#B" x="2" y="21"/></g><g id="n21-3"><use href="#R" x="3" y="21"/></g><g id="n21-4"><use href="#R" x="4" y="21"/></g><g id="n21-5"><use href="#R" x="5" y="21"/></g><g id="n21-6"><use href="#R" x="6" y="21"/></g><g id="n21-7"><use href="#B" x="7" y="21"/></g><g id="n21-8"><use href="#B" x="8" y="21"/></g><g id="n21-9"><use href="#R" x="9" y="21"/></g><g id="n21-10"><use href="#R" x="10" y="21"/></g><g id="n21-11"><use href="#R" x="11" y="21"/></g><g id="n21-12"><use href="#R" x="12" y="21"/></g><g id="n21-13"><use href="#R" x="13" y="21"/></g><g id="n21-14"><use href="#B" x="14" y="21"/></g><g id="n21-15"><use href="#B" x="15" y="21"/></g><g id="n21-16"><use href="#R" x="16" y="21"/></g><g id="n21-17"><use href="#R" x="17" y="21"/></g><g id="n21-18"><use href="#R" x="18" y="21"/></g><g id="n21-19"><use href="#R" x="19" y="21"/></g><g id="n21-20"><use href="#B" x="20" y="21"/></g><g id="n21-21"><use href="#B" x="21" y="21"/></g><g id="n21-22"><use href="#R" x="22" y="21"/></g><g id="n21-23"><use href="#R" x="23" y="21"/></g><g id="n21-24"><use href="#R" x="24" y="21"/></g><g id="n21-25"><use href="#R" x="25" y="21"/></g><g id="n21-26"><use href="#B" x="26" y="21"/></g><g id="n21-27"><use href="#B" x="27" y="21"/></g><g id="n21-28"><use href="#R" x="28" y="21"/></g><g id="n21-29"><use href="#R" x="29" y="21"/></g></g>
<g id="row22"><g id="n22-0"><use href="#R" x="0" y="22"/></g><g id="n22-1"><use href="#R" x="1" y="22"/></g><g id="n22-2"><use href="#B" x="2" y="22"/></g><g id="n22-3"><use href="#B" x="3" y="22"/></g><g id="n22-4"><use href="#R" x="4" y="22"/></g><g id="n22-5"><use href="#R" x="5" y="22"/></g><g id="n22-6"><use href="#R" x="6" y="22"/></g><g id="n22-7"><use href="#R" x="7" y="22"/></g><g id="n22-8"><use href="#B" x="8" y="22"/></g><g id="n22-9"><use href="#B" x="9" y="22"/></g><g id="n22-10"><use href="#R" x="10" y="22"/></g><g id="n22-11"><use href="#R" x="11" y="22"/></g><g id="n22-12"><use href="#R" x="12" y="22"/></g><g id="n22-13"><use href="#B" x="13" y="22"/></g><g id="n22-14"><use href="#B" x="14" y="22"/></g><g id="n22-15"><use href="#R" x="15" y="22"/></g><g id="n22-16"><use href="#R" x="16" y="22"/></g><g id="n22-17"><use href="#R" x="17" y="22"/></g><g id="n22-18"><use href="#R" x="18" y="22"/></g><g id="n22-19"><use href="#B" x="19" y="22"/></g><g id="n22-20"><use href="#B" x="20" y="22"/></g><g id="n22-21"><use href="#R" x="21" y="22"/></g><g id="n22-22"><use href="#R" x="22" y="22"/></g><g id="n22-23"><use href="#R" x="23" y="22"/></g><g id="n22-24"><use href="#R" x="24" y="22"/></g><g id="n22-25"><use href="#B" x="25" y="22"/></g><g id="n22-26"><use href="#B" x="26" y="22"/></g><g id="n22-27"><use href="#R" x="27" y="22"/></g><g id="n22-28"><use href="#R" x="28" y="22"/></g><g id="n22-29"><use href="#R" x="29" y="22"/></g></g>
<g id="row23"><g id="n23-0"><use href="#R" x="0" y="23"/></g><g id="n23-1"><use href="#R" x="1" y="23"/></g><g id="n23-2"><use href="#R" x="2" y="23"/></g><g id="n23-3"><use href="#B" x="3" y="23"/></g><g id="n23-4"><use href="#B" x="4" y="23"/></g><g id="n23-5"><use href="#R" x="5" y="23"/></g><g id="n23-6"><use href="#R" x="6" y="23"/></g><g id="n23-7"><use href="#R" x="7" y="23"/></g><g id="n23-8"><use href="#R" x="8" y="23"/></g><g id="n23-9"><use href="#B" x="9" y="23"/></g><g id="n23-10"><use href="#B" x="10" y="23"/></g><g id="n23-11"><use href="#R" x="11" y="23"/></g><g id="n23-12"><use href="#B" x="12" y="23"/></g><g id="n23-13"><use href="#B" x="13" y="23"/></g><g id="n23-14"><use href="#R" x="14" y="23"/></g><g id="n23-15"><use href="#R" x="15" y="23"/></g><g id="n23-16"><use href="#R" x="16" y="23"/></g><g id="n23-17"><use href="#R" x="17" y="23"/></g><g id="n23-18"><use href="#B" x="18" y="23"/></g><g id="n23-19"><use href="#B" x="19" y="23"/></g><g id="n23-20"><use href="#R" x="20" y="23"/></g><g id="n23-21"><use href="#R" x="21" y="23"/></g><g id="n23-22"><use href="#R" x="22" y="23"/></g><g id="n23-23"><use href="#R" x="23" y="23"/></g><g id="n23-24"><use href="#B" x="24" y="23"/></g><g id="n23-25"><use href="#B" x="25" y="23"/></g><g id="n23-26"><use href="#R" x="26" y="23"/></g><g id="n23-27"><use href="#R" x="27" y="23"/></g><g id="n23-28"><use href="#R" x="28" y="23"/></g><g id="n23-29"><use href="#R" x="29" y="23"/></g></g>
<g id="row24"><g id="n24-0"><use href="#R" x="0" y="24"/></g><g id="n24-1"><use href="#R" x="1" y="24"/></g><g id="n24-2"><use href="#R" x="2" y="24"/></g><g id="n24-3"><use href="#R" x="3" y="24"/></g><g id="n24-4"><use href="#B" x="4" y="24"/></g><g id="n24-5"><use href="#B" x="5" y="24"/></g><g id="n24-6"><use href="#R" x="6" y="24"/></g><g id="n24-7"><use href="#R" x="7" y="24"/></g><g id="n24-8"><use href="#R" x="8" y="24"/></g><g id="n24-9"><use href="#R" x="9" y="24"/></g><g id="n24-10"><use href="#B" x="10" y="24"/></g><g id="n24-11"><use href="#B" x="11" y="24"/></g><g id="n24-12"><use href="#B" x="12" y="24"/></g><g id="n24-13"><use href="#R" x="13" y="24"/></g><g id="n24-14"><use href="#R" x="14" y="24"/></g><g id="n24-15"><use href="#R" x="15" y="24"/></g><g id="n24-16"><use href="#R" x="16" y="24"/></g><g id="n24-17"><use href="#B" x="17" y="24"/></g><g id="n24-18"><use href="#R" x="18" y="24"/></g><g id="n24-19"><use href="#R" x="19" y="24"/></g><g id="n24-20"><use href="#R" x="20" y="24"/></g><g id="n24-21"><use href="#R" x="21" y="24"/></g><g id="n24-22"><use href="#R" x="22" y="24"/></g><g id="n24-23"><use href="#B" x="23" y="24"/></g><g id="n24-24"><use href="#B" x="24" y="24"/></g><g id="n24-25"><use href="#R" x="25" y="24"/></g><g id="n24-26"><use href="#R" x="26" y="24"/></g><g id="n24-27"><use href="#R" x="27" y="24"/></g><g id="n24-28"><use href="#R" x="28" y="24"/></g><g id="n24-29"><use href="#B" x="29" y="24"/></g></g>
<g id="row25"><g id="n25-0"><use href="#B" x="0" y="25"/></g><g id="n25-1"><use href="#R" x="1" y="25"/></g><g id="n25-2"><use href="#R" x="2" y="25"/></g><g id="n25-3"><use href="#R" x="3" y="25"/></g><g id="n25-4"><use href="#R" x="4" y="25"/></g><g id="n25-5"><use href="#B" x="5" y="25"/></g><g id="n25-6"><use href="#B" x="6" y="25"/></g><g id="n25-7"><use href="#R" x="7" y="25"/></g><g id="n25-8"><use href="#R" x="8" y="25"/></g><g id="n25-9"><use href="#R" x="9" y="25"/></g><g id="n25-10"><use href="#R" x="10" y="25"/></g><g id="n25-11"><use href="#B" x="11" y="25"/></g><g id="n25-12"><use href="#R" x="12" y="25"/></g><g id="n25-13"><use href="#R" x="13" y="25"/></g><g id="n25-14"><use href="#R" x="14" y="25"/></g><g id="n25-15"><use href="#R" x="15" y="25"/></g><g id="n25-16"><use href="#B" x="16" y="25"/></g><g id="n25-17"><use href="#B" x="17" y="25"/></g><g id="n25-18"><use href="#R" x="18" y="25"/></g><g id="n25-19"><use href="#R" x="19" y="25"/></g><g id="n25-20"><use href="#R" x="20" y="25"/></g><g id="n25-21"><use href="#R" x="21" y="25"/></g><g id="n25-22"><use href="#B" x="22" y="25"/></g><g id="n25-23"><use href="#B" x="23" y="25"/></g><g id="n25-24"><use href="#R" x="24" y="25"/></g><g id="n25-25"><use href="#R" x="25" y="25"/></g><g id="n25-26"><use href="#R" x="26" y="25"/></g><g id="n25-27"><use href="#R" x="27" y="25"/></g><g id="n25-28"><use href="#B" x="28" y="25"/></g><g id="n25-29"><use href="#B" x="29" y="25"/></g></g>
<g id="row26"><g id="n26-0"><use href="#B" x="0" y="26"/></g><g id="n26-1"><use href="#B" x="1" y="26"/></g><g id="n26-2"><use href="#R" x="2" y="26"/></g><g id="n26-3"><use href="#R" x="3" y="26"/></g><g id="n26-4"><use href="#R" x="4" y="26"/></g><g id="n26-5"><use href="#R" x="5" y="26"/></g><g id="n26-6"><use href="#B" x="6" y="26"/></g><g id="n26-7"><use href="#B" x="7" y="26"/></g><g id="n26-8"><use href="#R" x="8" y="26"/></g><g id="n26-9"><use href="#R" x="9" y="26"/></g><g id="n26-10"><use href="#R" x="10" y="26"/></g><g id="n26-11"><use href="#R" x="11" y="26"/></g><g id="n26-12"><use href="#R" x="12" y="26"/></g><g id="n26-13"><use href="#R" x="13" y="26"/></g><g id="n26-14"><use href="#R" x="14" y="26"/></g><g id="n26-15"><use href="#B" x="15" y="26"/></g><g id="n26-16"><use href="#B" x="16" y="26"/></g><g id="n26-17"><use href="#R" x="17" y="26"/></g><g id="n26-18"><use href="#R" x="18" y="26"/></g><g id="n26-19"><use href="#R" x="19" y="26"/></g><g id="n26-20"><use href="#R" x="20" y="26"/></g><g id="n26-21"><use href="#B" x="21" y="26"/></g><g id="n26-22"><use href="#B" x="22" y="26"/></g><g id="n26-23"><use href="#R" x="23" y="26"/></g><g id="n26-24"><use href="#R" x="24" y="26"/></g><g id="n26-25"><use href="#R" x="25" y="26"/></g><g id="n26-26"><use href="#R" x="26" y="26"/></g><g id="n26-27"><use href="#B" x="27" y="26"/></g><g id="n26-28"><use href="#B" x="28" y="26"/></g><g id="n26-29"><use href="#R" x="29" y="26"/></g></g>
<g id="row27"><g id="n27-0"><use href="#R" x="0" y="27"/></g><g id="n27-1"><use href="#B" x="1" y="27"/></g><g id="n27-2"><use href="#B" x="2" y="27"/></g><g id="n27-3"><use href="#R" x="3" y="27"/></g><g id="n27-4"><use href="#R" x="4" y="27"/></g><g id="n27-5"><use href="#R" x="5" y="27"/></g><g id="n27-6"><use href="#R" x="6" y="27"/></g><g id="n27-7"><use href="#B" x="7" y="27"/></g><g id="n27-8"><use href="#B" x="8" y="27"/></g><g id="n27-9"><use href="#R" x="9" y="27"/></g><g id="n27-10"><use href="#R" x="10" y="27"/></g><g id="n27-11"><use href="#R" x="11" y="27"/></g><g id="n27-12"><use href="#R" x="12" y="27"/></g><g id="n27-13"><use href="#R" x="13" y="27"/></g><g id="n27-14"><use href="#B" x="14" y="27"/></g><g id="n27-15"><use href="#B" x="15" y="27"/></g><g id="n27-16"><use href="#R" x="16" y="27"/></g><g id="n27-17"><use href="#R" x="17" y="27"/></g><g id="n27-18"><use href="#R" x="18" y="27"/></g><g id="n27-19"><use href="#R" x="19" y="27"/></g><g id="n27-20"><use href="#B" x="20" y="27"/></g><g id="n27-21"><use href="#B" x="21" y="27"/></g><g id="n27-22"><use href="#R" x="22" y="27"/></g><g id="n27-23"><use href="#R" x="23" y="27"/></g><g id="n27-24"><use href="#R" x="24" y="27"/></g><g id="n27-25"><use href="#R" x="25" y="27"/></g><g id="n27-26"><use href="#B" x="26" y="27"/></g><g id="n27-27"><use href="#B" x="27" y="27"/></g><g id="n27-28"><use href="#R" x="28" y="27"/></g><g id="n27-29"><use href="#R" x="29" y="27"/></g></g>
<g id="row28"><g id="n28-0"><use href="#R" x="0" y="28"/></g><g id="n28-1"><use href="#R" x="1" y="28"/></g><g id="n28-2"><use href="#B" x="2" y="28"/></g><g id="n28-3"><use href="#B" x="3" y="28"/></g><g id="n28-4"><use href="#R" x="4" y="28"/></g><g id="n28-5"><use href="#R" x="5" y="28"/></g><g id="n28-6"><use href="#R" x="6" y="28"/></g><g id="n28-7"><use href="#R" x="7" y="28"/></g><g id="n28-8"><use href="#B" x="8" y="28"/></g><g id="n28-9"><use href="#B" x="9" y="28"/></g><g id="n28-10"><use href="#R" x="10" y="28"/></g><g id="n28-11"><use href="#R" x="11" y="28"/></g><g id="n28-12"><use href="#R" x="12" y="28"/></g><g id="n28-13"><use href="#B" x="13" y="28"/></g><g id="n28-14"><use href="#B" x="14" y="28"/></g><g id="n28-15"><use href="#R" x="15" y="28"/></g><g id="n28-16"><use href="#R" x="16" y="28"/></g><g id="n28-17"><use href="#R" x="17" y="28"/></g><g id="n28-18"><use href="#R" x="18" y="28"/></g><g id="n28-19"><use href="#B" x="19" y="28"/></g><g id="n28-20"><use href="#B" x="20" y="28"/></g><g id="n28-21"><use href="#R" x="21" y="28"/></g><g id="n28-22"><use href="#R" x="22" y="28"/></g><g id="n28-23"><use href="#R" x="23" y="28"/></g><g id="n28-24"><use href="#R" x="24" y="28"/></g><g id="n28-25"><use href="#B" x="25" y="28"/></g><g id="n28-26"><use href="#B" x="26" y="28"/></g><g id="n28-27"><use href="#R" x="27" y="28"/></g><g id="n28-28"><use href="#R" x="28" y="28"/></g><g id="n28-29"><use href="#R" x="29" y="28"/></g></g>
<g id="row29"><g id="n29-0"><use href="#R" x="0" y="29"/></g><g id="n29-1"><use href="#R" x="1" y="29"/></g><g id="n29-2"><use href="#R" x="2" y="29"/></g><g id="n29-3"><use href="#B" x="3" y="29"/></g><g id="n29-4"><use href="#B" x="4" y="29"/></g><g id="n29-5"><use href="#R" x="5" y="29"/></g><g id="n29-6"><use href="#R" x="6" y="29"/></g><g id="n29-7"><use href="#R" x="7" y="29"/></g><g id="n29-8"><use href="#R" x="8" y="29"/></g><g id="n29-9"><use href="#B" x="9" y="29"/></g><g id="n29-10"><use href="#B" x="10" y="29"/></g><g id="n29-11"><use href="#R" x="11" y="29"/></g><g id="n29-12"><use href="#B" x="12" y="29"/></g><g id="n29-13"><use href="#B" x="13" y="29"/></g><g id="n29-14"><use href="#R" x="14" y="29"/></g><g id="n29-15"><use href="#R" x="15" y="29"/></g><g id="n29-16"><use href="#R" x="16" y="29"/></g><g id="n29-17"><use href="#R" x="17" y="29"/></g><g id="n29-18"><use href="#B" x="18" y="29"/></g><g id="n29-19"><use href="#B" x="19" y="29"/></g><g id="n29-20"><use href="#R" x="20" y="29"/></g><g id="n29-21"><use href="#R" x="21" y="29"/></g><g id="n29-22"><use href="#R" x="22" y="29"/></g><g id="n29-23"><use href="#R" x="23" y="29"/></g><g id="n29-24"><use href="#B" x="24" y="29"/></g><g id="n29-25"><use href="#B" x="25" y="29"/></g><g id="n29-26"><use href="#R" x="26" y="29"/></g><g id="n29-27"><use href="#R" x="27" y="29"/></g><g id="n29-28"><use href="#R" x="28" y="29"/></g><g id="n29-29"><use href="#R" x="29" y="29"/></g></g>
</g>
</svg>
